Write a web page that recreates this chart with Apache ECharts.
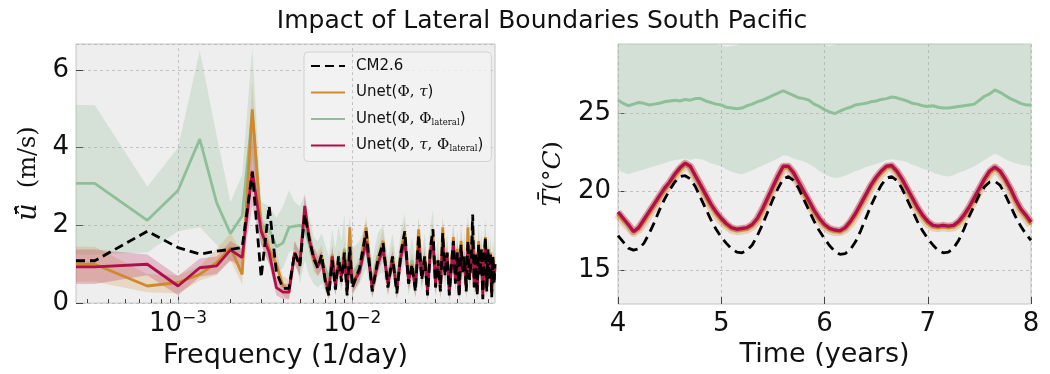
<!DOCTYPE html>
<html><head><meta charset="utf-8">
<script src="https://cdn.jsdelivr.net/npm/echarts@6/dist/echarts.min.js"></script>
<style>html,body{margin:0;padding:0;background:#fff}#c{width:1050px;height:374px}</style>
</head><body><div id="c"></div>
<script>
// ---------------- Left panel: spectrum ----------------
const FREQ = [
  0.00026, 0.000333, 0.000667, 0.001, 0.001333, 0.001667, 0.002, 0.002333, 0.002667, 0.003,
  0.003333, 0.003667, 0.004, 0.004333, 0.004667, 0.005, 0.005333, 0.005667, 0.006, 0.006333,
  0.006667, 0.007, 0.007333, 0.007667, 0.008, 0.008333, 0.008667, 0.009, 0.009333, 0.009667,
  0.01,
  0.011, 0.012, 0.013, 0.014, 0.015, 0.016, 0.017, 0.018, 0.019, 0.020,
  0.021, 0.022, 0.023, 0.024, 0.025, 0.026, 0.027, 0.028, 0.029, 0.030,
  0.031, 0.032, 0.033, 0.034, 0.035, 0.036, 0.037, 0.038, 0.039, 0.040,
  0.041, 0.042, 0.043, 0.044, 0.045, 0.046, 0.047, 0.048, 0.049, 0.050,
  0.051, 0.052, 0.053, 0.054, 0.055, 0.056, 0.057, 0.058, 0.059, 0.060,
  0.061, 0.062, 0.063, 0.064, 0.065, 0.0658
];
const SPEC_CM26 = [
  1.09, 1.09, 1.85, 1.43, 1.26, 1.34, 1.38, 1.43, 3.37, 0.66,
  2.5, 0.8, 0.38, 0.38, 1.3, 0.95, 2.28, 1.65, 1.15, 0.9,
  1.25, 0.55, 0.2, 1.1, 0.35, 1.2, 0.55, 1.3, 0.2, 1.45,
  0.4,
  0.9, 1.85, 0.3, 1.1, 1.55, 0.4, 1.2, 0.25, 1.3, 1.85,
  0.5, 1.0, 0.3, 1.75, 0.6, 1.2, 0.2, 1.4, 1.9, 0.4,
  1.1, 0.3, 1.8, 0.7, 1.3, 0.2, 1.0, 1.6, 0.5, 1.3,
  0.15, 1.5, 0.8, 1.2, 0.3, 1.6, 0.6, 1.1, 2.28, 0.4,
  1.3, 0.2, 1.5, 0.7, 1.4, 0.1, 1.2, 1.7, 0.3, 1.4,
  0.6, 1.3, 0.15, 1.2, 0.5, 1.0
];
const SPEC_TAU = [
  1.0, 1.0, 0.44, 0.53, 0.74, 1.04, 1.43, 0.74, 4.99, 1.9,
  1.4, 1.0, 0.44, 0.35, 1.3, 1.0, 2.4, 1.7, 1.1, 1.0,
  1.2, 0.6, 0.35, 1.25, 0.5, 1.1, 0.7, 1.35, 0.3, 1.95,
  0.5,
  0.9, 1.95, 0.4, 1.1, 1.6, 0.5, 1.2, 0.4, 1.35, 1.8,
  0.6, 1.0, 0.45, 1.9, 0.7, 1.2, 0.35, 1.4, 1.75, 0.5,
  1.1, 0.4, 1.95, 0.8, 1.3, 0.3, 1.0, 1.7, 0.6, 1.4,
  0.3, 1.6, 0.9, 1.2, 0.4, 1.95, 0.7, 1.1, 1.9, 0.5,
  1.3, 0.3, 1.6, 0.8, 1.4, 0.25, 1.2, 1.7, 0.4, 1.4,
  0.7, 1.3, 0.3, 1.2, 0.6, 1.0
];
const SPEC_TAU_LO = [
  0.55, 0.55, 0.28, 0.25, 0.58, 0.72, 1.1, 0.48, 3.8, 1.5,
  1.0, 0.7, 0.2, 0.1, 1.0, 0.7, 2.1, 1.4, 0.8, 0.7,
  0.9, 0.3, 0.1, 1.0, 0.2, 0.8, 0.4, 1.1, 0.1, 1.65,
  0.2,
  0.6, 1.65, 0.1, 0.8, 1.3, 0.2, 0.9, 0.1, 1.05, 1.5,
  0.3, 0.7, 0.15, 1.6, 0.4, 0.9, 0.05, 1.1, 1.45, 0.2,
  0.8, 0.1, 1.65, 0.5, 1.0, 0.05, 0.7, 1.4, 0.3, 1.1,
  0.05, 1.3, 0.6, 0.9, 0.1, 1.65, 0.4, 0.8, 1.6, 0.2,
  1.0, 0.05, 1.3, 0.5, 1.1, 0.05, 0.9, 1.4, 0.1, 1.1,
  0.4, 1.0, 0.05, 0.9, 0.3, 0.7
];
const SPEC_TAU_HI = [
  1.45, 1.45, 0.75, 0.72, 0.95, 1.4, 1.8, 1.3, 5.7, 2.3,
  1.8, 1.3, 0.7, 0.6, 1.6, 1.3, 2.7, 2.0, 1.4, 1.3,
  1.5, 0.9, 0.6, 1.5, 0.8, 1.4, 1.0, 1.6, 0.55, 2.25,
  0.8,
  1.2, 2.25, 0.7, 1.4, 1.9, 0.8, 1.5, 0.7, 1.65, 2.1,
  0.9, 1.3, 0.75, 2.2, 1.0, 1.5, 0.65, 1.7, 2.05, 0.8,
  1.4, 0.7, 2.25, 1.1, 1.6, 0.6, 1.3, 2.0, 0.9, 1.7,
  0.6, 1.9, 1.2, 1.5, 0.7, 2.25, 1.0, 1.4, 2.2, 0.8,
  1.6, 0.6, 1.9, 1.1, 1.7, 0.55, 1.5, 2.0, 0.7, 1.7,
  1.0, 1.6, 0.6, 1.5, 0.9, 1.3
];
const SPEC_LAT = [
  3.08, 3.08, 2.13, 2.9, 4.22, 2.58, 1.79, 2.24, 4.85, 2.0,
  1.9, 1.45, 1.55, 1.95, 1.98, 2.0, 1.95, 1.5, 1.2, 1.0,
  1.1, 0.9, 0.6, 1.2, 0.75, 1.2, 0.85, 1.4, 0.5, 1.3,
  0.75,
  1.0, 1.4, 0.6, 1.2, 1.3, 0.7, 1.2, 0.5, 1.3, 1.5,
  0.7, 1.1, 0.6, 1.5, 0.8, 1.2, 0.5, 1.3, 1.5, 0.6,
  1.1, 0.5, 1.5, 0.9, 1.2, 0.4, 1.0, 1.4, 0.7, 1.3,
  0.4, 1.4, 0.9, 1.2, 0.5, 1.5, 0.8, 1.1, 1.6, 0.6,
  1.2, 0.4, 1.4, 0.9, 1.3, 0.3, 1.1, 1.5, 0.5, 1.3,
  0.8, 1.2, 0.4, 1.1, 0.7, 1.0
];
const SPEC_LAT_LO = [
  1.25, 1.25, 1.3, 1.85, 1.95, 1.5, 1.05, 1.25, 3.2, 1.5,
  1.3, 0.8, 0.9, 1.3, 1.4, 0.5, 1.1, 0.7, 0.5, 0.4,
  0.5, 0.3, 0.15, 0.6, 0.2, 0.6, 0.3, 0.8, 0.1, 0.7,
  0.2,
  0.5, 0.9, 0.15, 0.7, 0.8, 0.2, 0.7, 0.1, 0.8, 1.0,
  0.2, 0.6, 0.15, 1.0, 0.3, 0.7, 0.1, 0.8, 1.0, 0.15,
  0.6, 0.1, 1.0, 0.4, 0.7, 0.05, 0.5, 0.9, 0.2, 0.8,
  0.05, 0.9, 0.4, 0.7, 0.1, 1.0, 0.3, 0.6, 1.1, 0.15,
  0.7, 0.05, 0.9, 0.4, 0.8, 0.05, 0.6, 1.0, 0.1, 0.8,
  0.3, 0.7, 0.05, 0.6, 0.2, 0.5
];
const SPEC_LAT_HI = [
  5.1, 5.1, 3.0, 4.0, 6.5, 4.3, 2.6, 3.3, 6.6, 2.6,
  2.5, 2.2, 2.5, 2.9, 2.6, 2.5, 2.8, 2.2, 1.7, 1.6,
  1.8, 1.5, 1.2, 1.9, 1.4, 2.0, 1.6, 2.3, 1.1, 2.2,
  1.4,
  1.6, 2.1, 1.1, 1.8, 2.0, 1.2, 1.8, 1.0, 1.9, 2.3,
  1.2, 1.7, 1.1, 2.2, 1.3, 1.8, 1.0, 2.0, 2.4, 1.1,
  1.7, 1.0, 2.2, 1.4, 1.8, 0.9, 1.6, 2.1, 1.2, 1.9,
  0.9, 2.1, 1.4, 1.8, 1.0, 2.3, 1.3, 1.7, 2.4, 1.1,
  1.8, 0.9, 2.1, 1.4, 1.9, 0.8, 1.7, 2.2, 1.0, 1.9,
  1.3, 1.8, 0.9, 1.7, 1.2, 1.5
];
const SPEC_ALL = [
  0.93, 0.93, 1.0, 0.44, 0.91, 0.96, 1.37, 1.17, 3.4, 1.85,
  1.3, 0.4, 0.28, 0.28, 1.3, 1.0, 2.5, 1.6, 1.2, 0.95,
  1.1, 0.6, 0.3, 1.2, 0.45, 1.0, 0.7, 1.2, 0.3, 1.3,
  0.5,
  0.8, 1.6, 0.4, 1.0, 1.4, 0.5, 1.1, 0.35, 1.2, 1.6,
  0.6, 0.9, 0.4, 1.5, 0.7, 1.1, 0.3, 1.3, 1.6, 0.5,
  1.0, 0.4, 1.6, 0.8, 1.2, 0.3, 0.9, 1.5, 0.6, 1.3,
  0.25, 1.4, 0.9, 1.1, 0.4, 1.5, 0.7, 1.0, 1.7, 0.5,
  1.2, 0.3, 1.4, 0.8, 1.3, 0.2, 1.1, 1.5, 0.4, 1.3,
  0.7, 1.2, 0.25, 1.1, 0.6, 0.9
];
const SPEC_ALL_LO = [
  0.49, 0.49, 0.72, 0.2, 0.68, 0.75, 1.1, 0.9, 2.5, 1.5,
  1.0, 0.2, 0.1, 0.1, 1.0, 0.7, 2.2, 1.3, 0.95, 0.7,
  0.85, 0.35, 0.1, 0.95, 0.2, 0.75, 0.45, 0.95, 0.1, 1.05,
  0.25,
  0.55, 1.35, 0.15, 0.75, 1.15, 0.25, 0.85, 0.1, 0.95, 1.35,
  0.35, 0.65, 0.15, 1.25, 0.45, 0.85, 0.05, 1.05, 1.35, 0.25,
  0.75, 0.15, 1.35, 0.55, 0.95, 0.05, 0.65, 1.25, 0.35, 1.05,
  0.05, 1.15, 0.65, 0.85, 0.15, 1.25, 0.45, 0.75, 1.45, 0.25,
  0.95, 0.05, 1.15, 0.55, 1.05, 0.05, 0.85, 1.25, 0.15, 1.05,
  0.45, 0.95, 0.05, 0.85, 0.35, 0.65
];
const SPEC_ALL_HI = [
  1.38, 1.38, 1.25, 0.7, 1.15, 1.2, 1.6, 1.4, 4.3, 2.2,
  1.6, 0.65, 0.5, 0.5, 1.6, 1.3, 2.8, 1.9, 1.45, 1.2,
  1.35, 0.85, 0.5, 1.45, 0.7, 1.25, 0.95, 1.45, 0.5, 1.55,
  0.75,
  1.05, 1.85, 0.65, 1.25, 1.65, 0.75, 1.35, 0.6, 1.45, 1.85,
  0.85, 1.15, 0.65, 1.75, 0.95, 1.35, 0.55, 1.55, 1.85, 0.75,
  1.25, 0.65, 1.85, 1.05, 1.45, 0.55, 1.15, 1.75, 0.85, 1.55,
  0.5, 1.65, 1.15, 1.35, 0.65, 1.75, 0.95, 1.25, 1.95, 0.75,
  1.45, 0.55, 1.65, 1.05, 1.55, 0.45, 1.35, 1.75, 0.65, 1.55,
  0.95, 1.45, 0.5, 1.35, 0.85, 1.15
];
const X_MAJOR_FREQ = [0.001, 0.01];
const X_MAJOR_EXP = ['\u22123', '\u22122'];
const X_MINOR_FREQ = [0.0003, 0.0004, 0.0005, 0.0006, 0.0007, 0.0008, 0.0009,
  0.002, 0.003, 0.004, 0.005, 0.006, 0.007, 0.008, 0.009,
  0.02, 0.03, 0.04, 0.05, 0.06];

// ---------------- Right panel: temperature time series ----------------
const TIME = [
  4.00, 4.05, 4.10, 4.15, 4.20, 4.25, 4.30, 4.35, 4.40, 4.45,
  4.50, 4.55, 4.60, 4.65, 4.70, 4.75, 4.80, 4.85, 4.90, 4.95,
  5.00, 5.05, 5.10, 5.15, 5.20, 5.25, 5.30, 5.35, 5.40, 5.45,
  5.50, 5.55, 5.60, 5.65, 5.70, 5.75, 5.80, 5.85, 5.90, 5.95,
  6.00, 6.05, 6.10, 6.15, 6.20, 6.25, 6.30, 6.35, 6.40, 6.45,
  6.50, 6.55, 6.60, 6.65, 6.70, 6.75, 6.80, 6.85, 6.90, 6.95,
  7.00, 7.05, 7.10, 7.15, 7.20, 7.25, 7.30, 7.35, 7.40, 7.45,
  7.50, 7.55, 7.60, 7.65, 7.70, 7.75, 7.80, 7.85, 7.90, 7.95,
  8.00
];
const T_CM26 = [
  17.2, 16.8, 16.4, 16.27, 16.35, 16.7, 17.3, 18.0, 18.8, 19.5,
  20.1, 20.6, 20.95, 21.0, 20.8, 20.3, 19.6, 18.9, 18.2, 17.6,
  17.1, 16.7, 16.35, 16.15, 16.1, 16.25, 16.6, 17.2, 17.9, 18.7,
  19.5, 20.2, 20.8, 20.95, 20.7, 20.2, 19.5, 18.8, 18.1, 17.5,
  17.0, 16.55, 16.2, 16.0, 16.05, 16.3, 16.8, 17.5, 18.3, 19.1,
  19.8, 20.4, 20.85, 20.95, 20.7, 20.2, 19.5, 18.8, 18.1, 17.5,
  17.0, 16.6, 16.25, 16.1, 16.15, 16.4, 16.9, 17.6, 18.4, 19.1,
  19.8, 20.3, 20.6, 20.65, 20.4, 19.8, 19.1, 18.4, 17.8, 17.3,
  16.9
];
const T_TAU = [
  18.55, 18.15, 17.8, 17.4, 17.6, 18.05, 18.55, 19.05, 19.55, 20.05,
  20.45, 20.95, 21.35, 21.7, 21.5, 20.9, 20.3, 19.65, 19.05, 18.55,
  18.15, 17.85, 17.6, 17.5, 17.55, 17.6, 17.8, 18.15, 18.75, 19.45,
  20.15, 20.85, 21.5, 21.5, 21.1, 20.5, 19.85, 19.25, 18.65, 18.15,
  17.8, 17.55, 17.45, 17.45, 17.6, 17.95, 18.45, 19.05, 19.65, 20.25,
  20.75, 21.15, 21.5, 21.55, 21.2, 20.7, 20.05, 19.45, 18.85, 18.35,
  17.95, 17.75, 17.7, 17.75, 17.7, 17.75, 17.95, 18.35, 18.85, 19.45,
  20.05, 20.65, 21.15, 21.45, 21.2, 20.65, 20.05, 19.35, 18.75, 18.35,
  17.9
];
const T_ALL = [
  18.7, 18.3, 17.9, 17.45, 17.7, 18.2, 18.7, 19.2, 19.7, 20.2,
  20.6, 21.1, 21.5, 21.8, 21.6, 21.0, 20.4, 19.8, 19.2, 18.7,
  18.3, 17.95, 17.7, 17.6, 17.65, 17.7, 17.9, 18.3, 18.9, 19.6,
  20.3, 21.0, 21.6, 21.6, 21.2, 20.6, 20.0, 19.4, 18.8, 18.3,
  17.9, 17.65, 17.55, 17.5, 17.7, 18.1, 18.6, 19.2, 19.8, 20.4,
  20.9, 21.3, 21.6, 21.65, 21.3, 20.8, 20.2, 19.6, 19.0, 18.5,
  18.1, 17.85, 17.8, 17.85, 17.8, 17.85, 18.1, 18.5, 19.0, 19.6,
  20.2, 20.8, 21.3, 21.55, 21.3, 20.8, 20.2, 19.5, 18.9, 18.5,
  18.05
];
const T_LAT = [
  25.8, 25.6, 25.45, 25.55, 25.65, 25.6, 25.5, 25.55, 25.6, 25.7,
  25.75, 25.8, 25.75, 25.85, 25.8, 25.9, 25.9, 25.75, 25.65, 25.55,
  25.5, 25.35, 25.3, 25.25, 25.3, 25.45, 25.55, 25.7, 25.8, 25.95,
  26.1, 26.25, 26.4, 26.25, 26.1, 25.95, 25.9, 25.8, 25.55, 25.4,
  25.2, 25.05, 24.95, 25.1, 25.25, 25.35, 25.5, 25.55, 25.6, 25.7,
  25.75, 25.85, 25.9, 26.0, 25.95, 25.85, 25.75, 25.6, 25.55, 25.45,
  25.4, 25.45, 25.35, 25.3, 25.3, 25.35, 25.4, 25.45, 25.5, 25.55,
  25.8, 26.05, 26.2, 26.45, 26.3, 26.1, 25.9, 25.75, 25.6, 25.5,
  25.5
];
const T_LAT_LO = [
  21.4, 21.2, 21.1, 21.2, 21.3, 21.4, 21.5, 21.6, 21.7, 21.8,
  21.9, 22.0, 22.05, 22.1, 22.0, 22.1, 22.05, 21.95, 21.8, 21.7,
  21.6, 21.4, 21.25, 21.15, 21.1, 21.2, 21.35, 21.5, 21.65, 21.8,
  21.95, 22.1, 22.3, 22.25, 22.1, 22.0, 21.9, 21.75, 21.55, 21.3,
  21.1, 20.95, 20.85, 20.9, 21.0, 21.15, 21.3, 21.4, 21.55, 21.65,
  21.75, 21.85, 22.0, 22.05, 22.0, 21.95, 21.85, 21.7, 21.6, 21.45,
  21.35, 21.2, 21.1, 21.0, 20.95, 21.05, 21.2, 21.3, 21.45, 21.6,
  21.8, 22.0, 22.2, 22.4, 22.25, 22.05, 21.9, 21.8, 21.7, 21.65,
  21.6
];
const T_LAT_HI = [
  29.6, 29.3, 29.35, 29.6, 29.7, 29.7, 29.75, 29.7, 29.7, 29.75,
  29.8, 29.75, 29.8, 29.8, 29.75, 29.7, 29.7, 29.6, 29.5, 29.4,
  29.25, 29.2, 29.25, 29.3, 29.45, 29.6, 29.7, 29.75, 29.8, 29.8,
  29.8, 29.85, 29.9, 29.85, 29.8, 29.75, 29.7, 29.6, 29.5, 29.4,
  29.3, 29.25, 29.3, 29.45, 29.6, 29.7, 29.75, 29.75, 29.8, 29.8,
  29.8, 29.8, 29.85, 29.8, 29.75, 29.7, 29.65, 29.55, 29.45, 29.4,
  29.35, 29.45, 29.55, 29.6, 29.65, 29.7, 29.75, 29.75, 29.8, 29.8,
  29.85, 29.9, 29.9, 29.85, 29.8, 29.7, 29.6, 29.5, 29.4, 29.3,
  29.3
];
const Y_RIGHT_TICKS = [15, 20, 25];

// ---------------- styles ----------------
const C_BLACK = '#000000';
const C_TAU = '#D08A2C';
const C_LAT = '#8FBF98';
const C_ALL = '#B0104A';
const NAMES = ['CM2.6', 'Unet(\u03A6, \u03C4)', 'Unet(\u03A6, \u03A6_lateral)', 'Unet(\u03A6, \u03C4, \u03A6_lateral)'];
const LEGEND_RICH = {};
LEGEND_RICH[NAMES[0]] = '{h|CM2.6}';
LEGEND_RICH[NAMES[1]] = '{h|Unet(}{m|\u03A6, }{mi|\u03C4}{t|)}';
LEGEND_RICH[NAMES[2]] = '{h|Unet(}{m|\u03A6, \u03A6}{s|lateral}{t|)}';
LEGEND_RICH[NAMES[3]] = '{h|Unet(}{m|\u03A6, }{mi|\u03C4}{m|, \u03A6}{s|lateral}{t|)}';

const LOGX = FREQ.map(f => Math.log10(f));
const LX_MIN = Math.log10(0.00026), LX_MAX = Math.log10(0.0658);

function band(xs, lo, hi, color, xi, yi) {
  return {
    type: 'custom', xAxisIndex: xi, yAxisIndex: yi, clip: true, silent: true, z: 2,
    data: xs.map((x, i) => [x, lo[i], hi[i]]),
    encode: { x: 0, y: [1, 2] },
    renderItem: function (params, api) {
      if (params.dataIndex !== 0) return null;
      const pts = [];
      for (let i = 0; i < xs.length; i++) pts.push(api.coord([xs[i], hi[i]]));
      for (let i = xs.length - 1; i >= 0; i--) pts.push(api.coord([xs[i], lo[i]]));
      return { type: 'polygon', shape: { points: pts }, style: { fill: color } };
    }
  };
}
function line(name, xs, ys, color, width, xi, yi, dash, z) {
  return { type: 'line', name: name, xAxisIndex: xi, yAxisIndex: yi, data: xs.map((x, i) => [x, ys[i]]), symbol: 'none',
    lineStyle: { color: color, width: width, type: dash || 'solid' },
    itemStyle: { color: color }, silent: true, z: z };
}
const gridLineStyle = { color: '#B5B5B5', width: 0.8, type: [3, 3] };
const tickFont = { fontFamily: 'DejaVu Sans', fontSize: 26, color: '#111' };
const nameFont = { fontFamily: 'DejaVu Sans', fontSize: 27, color: '#111' };

const series = [].concat(
  [{ type: 'line', name: 'gl0', xAxisIndex: 0, yAxisIndex: 0, data: [[-3, -1]], symbol: 'none', lineStyle: { opacity: 0 }, z: 1, silent: true,
     markLine: { silent: true, symbol: ['none', 'none'], label: { show: false }, lineStyle: gridLineStyle,
       data: X_MAJOR_FREQ.map(f => ({ xAxis: Math.log10(f) })) } },
   { type: 'line', name: 'gl1', xAxisIndex: 2, yAxisIndex: 1, data: [[4, 0]], symbol: 'none', lineStyle: { opacity: 0 }, z: 1, silent: true,
     markLine: { silent: true, symbol: ['none', 'none'], label: { show: false }, lineStyle: gridLineStyle,
       data: Y_RIGHT_TICKS.map(v => ({ yAxis: v })) } }],
  [band(LOGX, SPEC_LAT_LO, SPEC_LAT_HI, 'rgba(143,191,152,0.26)', 0, 0),
   band(LOGX, SPEC_TAU_LO, SPEC_TAU_HI, 'rgba(208,138,44,0.22)', 0, 0),
   band(LOGX, SPEC_ALL_LO, SPEC_ALL_HI, 'rgba(176,16,74,0.22)', 0, 0),
   line(NAMES[2], LOGX, SPEC_LAT, C_LAT, 2.8, 0, 0, null, 3),
   line(NAMES[1], LOGX, SPEC_TAU, C_TAU, 2.8, 0, 0, null, 4),
   line(NAMES[3], LOGX, SPEC_ALL, C_ALL, 2.8, 0, 0, null, 5),
   line(NAMES[0], LOGX, SPEC_CM26, C_BLACK, 2.8, 0, 0, [9, 5], 6)],
  [band(TIME, T_LAT_LO, T_LAT_HI, 'rgba(143,191,152,0.28)', 2, 1),
   { type: 'line', name: 'rTb', xAxisIndex: 2, yAxisIndex: 1, data: TIME.map((x, i) => [x, T_TAU[i]]), symbol: 'none', silent: true, z: 3,
     lineStyle: { color: 'rgba(208,138,44,0.3)', width: 9, join: 'round' } },
   { type: 'line', name: 'rAb', xAxisIndex: 2, yAxisIndex: 1, data: TIME.map((x, i) => [x, T_ALL[i]]), symbol: 'none', silent: true, z: 3,
     lineStyle: { color: 'rgba(176,16,74,0.28)', width: 7, join: 'round' } },
   line('r_lat', TIME, T_LAT, C_LAT, 3, 2, 1, null, 4),
   line('r_tau', TIME, T_TAU, C_TAU, 3, 2, 1, null, 4),
   line('r_all', TIME, T_ALL, C_ALL, 3.4, 2, 1, null, 5),
   line('r_cm', TIME, T_CM26, C_BLACK, 2.8, 2, 1, [10, 6], 6)]
);

const chart = echarts.init(document.getElementById('c'), null, { renderer: 'canvas' });
chart.setOption({
  animation: false,
  backgroundColor: '#ffffff',
  graphic: [{ type: 'text', x: 542, y: 21, silent: true,
    style: { text: 'Impact of Lateral Boundaries South Pacific', textAlign: 'center', textVerticalAlign: 'middle',
      fontFamily: 'DejaVu Sans', fontSize: 25, fill: '#111' } }],
  grid: [
    { left: 76, top: 44, width: 419, height: 260, show: true, backgroundColor: '#EEEEEE', borderColor: '#C4C4C4', borderWidth: 1 },
    { left: 618, top: 44, width: 413, height: 260, show: true, backgroundColor: '#EEEEEE', borderColor: '#C4C4C4', borderWidth: 1 }
  ],
  legend: {
    data: NAMES, left: 304, top: 52, orient: 'vertical', itemWidth: 34, itemHeight: 14, itemGap: 8.5,
    padding: [5, 8, 7, 6], backgroundColor: 'rgba(242,242,242,0.85)', borderColor: '#D2D2D2', borderWidth: 1, borderRadius: 4,
    itemStyle: { color: 'rgba(0,0,0,0)', borderWidth: 0, opacity: 0 },
    formatter: n => LEGEND_RICH[n],
    textStyle: { fontFamily: 'DejaVu Sans', fontSize: 15, color: '#111', lineHeight: 18,
      rich: {
        h: { fontFamily: 'DejaVu Sans', fontSize: 15, color: '#111', lineHeight: 18, padding: [0, 0, 0, 6] },
        t: { fontFamily: 'DejaVu Sans', fontSize: 15, color: '#111', lineHeight: 18 },
        m: { fontFamily: 'DejaVu Serif', fontSize: 15, color: '#111', lineHeight: 18 },
        mi: { fontFamily: 'DejaVu Serif', fontStyle: 'italic', fontSize: 15, color: '#111', lineHeight: 18 },
        s: { fontFamily: 'DejaVu Serif', fontSize: 8.5, color: '#111', lineHeight: 11, padding: [7, 0, 0, 0] }
      } }
  },
  xAxis: [
    { gridIndex: 0, type: 'value', min: LX_MIN, max: LX_MAX, position: 'bottom',
      axisLine: { show: false }, splitLine: { show: false },
      axisTick: { show: true, inside: true, length: 7, customValues: X_MAJOR_FREQ.map(f => Math.log10(f)), lineStyle: { color: '#444' } },
      axisLabel: { show: true, margin: 7, customValues: X_MAJOR_FREQ.map(f => Math.log10(f)),
        formatter: v => '{b|10}{s|' + X_MAJOR_EXP[Math.round(v) === -3 ? 0 : 1] + '}',
        rich: { b: { fontFamily: 'DejaVu Sans', fontSize: 26, color: '#111' },
                s: { fontFamily: 'DejaVu Sans', fontSize: 17, color: '#111', verticalAlign: 'top', padding: [0, 0, 11, 0] } } },
      name: 'Frequency (1/day)', nameLocation: 'middle', nameGap: 37, nameTextStyle: nameFont },
    { gridIndex: 0, type: 'value', min: LX_MIN, max: LX_MAX, position: 'bottom',
      axisLine: { show: false }, splitLine: { show: false }, axisLabel: { show: false },
      axisTick: { show: true, inside: true, length: 4, customValues: X_MINOR_FREQ.map(f => Math.log10(f)), lineStyle: { color: '#444' } } },
    { gridIndex: 1, type: 'value', min: 4, max: 8, interval: 1, position: 'bottom',
      axisLine: { show: false },
      splitLine: { show: true, lineStyle: gridLineStyle },
      axisTick: { show: true, inside: true, length: 7, lineStyle: { color: '#444' } },
      axisLabel: Object.assign({ margin: 7 }, tickFont),
      name: 'Time (years)', nameLocation: 'middle', nameGap: 37, nameTextStyle: nameFont }
  ],
  yAxis: [
    { gridIndex: 0, type: 'value', min: 0, max: 6.67, interval: 2,
      axisLine: { show: false },
      splitLine: { show: true, lineStyle: gridLineStyle },
      axisTick: { show: true, inside: true, length: 7, lineStyle: { color: '#444' } },
      axisLabel: Object.assign({ margin: 7, showMaxLabel: false }, tickFont),
      name: '{u|\u016B\u0302}{r|  (m/s)}', nameLocation: 'middle', nameGap: 34,
      nameTextStyle: { rich: {
        u: { fontFamily: 'DejaVu Serif', fontStyle: 'italic', fontSize: 27, color: '#111' },
        r: { fontFamily: 'DejaVu Serif', fontSize: 24, color: '#111' } } } },
    { gridIndex: 1, type: 'value', min: 12.85, max: 29.37,
      axisLine: { show: false }, splitLine: { show: false },
      axisTick: { show: true, inside: true, length: 7, customValues: Y_RIGHT_TICKS, lineStyle: { color: '#444' } },
      axisLabel: Object.assign({ margin: 7, customValues: Y_RIGHT_TICKS }, tickFont),
      name: '{i|T\u0304}{r|(\u00B0}{i|C}{r|)}', nameLocation: 'middle', nameGap: 52,
      nameTextStyle: { rich: {
        i: { fontFamily: 'DejaVu Serif', fontStyle: 'italic', fontSize: 25, color: '#111' },
        r: { fontFamily: 'DejaVu Serif', fontSize: 23, color: '#111' } } } }
  ],
  series: series
});
</script></body></html>
